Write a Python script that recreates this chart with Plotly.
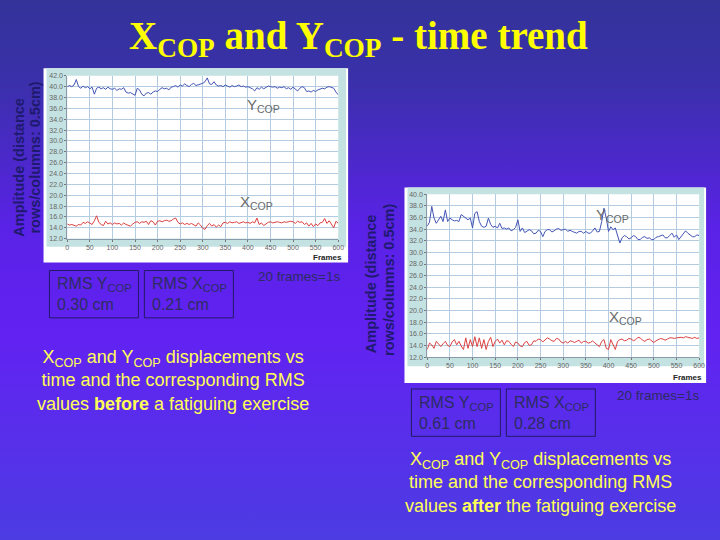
import base64
import plotly.graph_objects as go

W, H = 720, 540

frames = list(range(0, 601, 5))

# Before fatiguing exercise
y_cop_before = [40.0, 40.2, 40.0, 40.3, 41.3, 40.0, 39.7, 40.1, 39.8, 40.0, 39.6, 39.9, 38.6, 39.7, 39.9, 39.6,
                39.8, 39.5, 39.9, 39.6, 39.5, 39.7, 39.3, 39.6, 39.5, 39.8, 39.0, 38.8, 38.9, 38.6, 38.4, 39.7,
                39.4, 38.6, 38.3, 38.8, 38.9, 38.6, 39.0, 39.2, 39.1, 39.5, 39.8, 39.6, 39.7, 39.4, 39.9, 40.0,
                40.2, 39.9, 40.3, 40.1, 40.5, 40.2, 40.0, 40.4, 40.6, 40.2, 40.3, 40.5, 40.6, 40.9, 41.6, 40.5,
                40.4, 40.9, 40.3, 40.1, 40.2, 40.0, 40.3, 40.1, 39.9, 40.2, 40.0, 40.1, 40.3, 40.0, 40.1, 39.9,
                40.0, 39.8, 39.6, 39.2, 39.8, 39.5, 39.9, 39.6, 39.8, 40.1, 40.0, 39.9, 40.0, 39.7, 39.9, 39.8,
                40.0, 39.6, 39.8, 39.5, 39.9, 39.6, 39.2, 39.7, 40.0, 39.8, 39.1, 39.2, 39.0, 39.3, 39.1, 39.4,
                39.5, 39.7, 39.6, 39.9, 40.0, 39.8, 39.7, 39.0, 38.5]
x_cop_before = [14.7, 14.5, 14.6, 14.4, 14.3, 14.6, 14.5, 15.0, 14.8, 15.1, 14.9, 14.6, 15.3, 16.2, 15.0, 14.6,
                14.4, 15.2, 14.7, 14.9, 14.6, 14.9, 14.7, 14.8, 14.5, 14.9, 14.6, 14.5, 14.3, 14.7, 15.0, 15.1,
                14.8, 15.1, 15.0, 15.2, 14.6, 15.3, 15.1, 14.5, 15.2, 15.3, 15.1, 15.3, 15.4, 15.2, 15.3, 15.6,
                15.8, 15.0, 14.7, 14.9, 14.6, 14.8, 14.6, 14.8, 14.5, 14.3, 14.9, 14.5, 13.9, 13.7, 14.4, 14.8,
                14.3, 14.6, 14.1, 14.5, 14.2, 14.9, 15.0, 14.8, 15.1, 14.9, 15.0, 15.1, 14.8, 15.0, 15.1, 14.9,
                15.0, 14.8, 15.1, 14.9, 15.8, 14.6, 14.9, 14.4, 14.7, 15.0, 15.1, 14.9, 15.0, 15.1, 15.0, 14.9,
                15.1, 15.0, 15.1, 15.2, 15.1, 14.8, 15.2, 15.0, 15.1, 14.6, 14.9, 14.3, 14.8, 14.2, 14.7, 14.4,
                14.9, 15.0, 15.7, 14.8, 15.3, 14.6, 14.0, 15.2, 14.8]

# After fatiguing exercise
y_cop_after = [34.5, 35.2, 37.9, 35.9, 35.0, 35.6, 36.2, 35.3, 37.3, 35.3, 35.9, 35.6, 35.4, 35.5, 35.3, 36.5,
               36.2, 35.8, 35.6, 35.9, 34.2, 36.7, 37.0, 35.3, 34.5, 34.3, 34.5, 35.9, 34.8, 34.3, 34.5, 34.2,
               35.0, 34.1, 34.2, 34.0, 34.2, 33.7, 33.9, 34.3, 35.6, 33.6, 34.2, 33.4, 33.6, 33.9, 33.7, 33.2,
               33.3, 33.8, 33.6, 32.7, 33.6, 33.9, 33.9, 33.5, 33.7, 34.0, 34.1, 33.8, 33.9, 34.0, 33.6, 33.8,
               33.6, 33.4, 33.3, 33.6, 33.6, 33.3, 33.6, 33.3, 33.3, 33.7, 34.2, 33.5, 33.6, 35.3, 37.6, 35.9,
               33.6, 34.4, 33.9, 34.2, 33.0, 31.6, 32.5, 32.9, 32.7, 32.3, 32.5, 32.9, 32.7, 32.2, 32.2, 32.6,
               32.7, 32.4, 32.5, 32.2, 32.2, 32.6, 32.7, 32.9, 33.0, 32.5, 32.5, 32.9, 33.3, 32.6, 33.0, 32.2,
               32.7, 33.2, 33.7, 33.3, 33.0, 32.7, 32.7, 33.0, 32.9]
x_cop_after = [13.3, 14.4, 14.1, 13.5, 14.7, 14.2, 13.8, 14.3, 14.7, 14.0, 13.8, 14.6, 15.0, 14.1, 14.7, 13.9,
               13.3, 15.3, 13.5, 15.0, 13.8, 15.5, 13.8, 15.3, 13.5, 15.0, 13.3, 14.7, 15.4, 13.8, 14.7, 15.1,
               14.4, 14.9, 14.1, 14.8, 14.7, 14.2, 13.8, 14.6, 14.4, 13.9, 13.8, 14.5, 14.7, 14.0, 14.1, 14.8,
               14.7, 15.1, 15.0, 14.6, 15.0, 15.3, 15.1, 14.8, 14.7, 15.2, 15.1, 14.6, 14.4, 14.7, 14.4, 14.8,
               14.7, 14.5, 14.7, 14.9, 14.4, 14.7, 14.7, 14.4, 14.5, 14.8, 14.4, 14.1, 13.8, 14.7, 15.0, 13.5,
               13.3, 15.0, 14.1, 13.3, 14.7, 15.0, 15.1, 14.8, 14.9, 15.2, 15.1, 14.8, 15.0, 15.4, 15.3, 14.9,
               14.7, 15.0, 15.1, 14.8, 14.5, 14.8, 15.0, 15.2, 15.1, 14.9, 15.1, 15.3, 15.3, 15.2, 15.3, 15.4,
               15.4, 15.3, 15.5, 15.4, 15.3, 15.2, 15.4, 15.2, 15.3]

x_ticks = list(range(0, 601, 50))


def px(x):
    return x / W


def py(y):
    return 1 - y / H


# background gradient as svg image
svg = f'''<svg xmlns="http://www.w3.org/2000/svg" width="{W}" height="{H}" viewBox="0 0 {W} {H}" preserveAspectRatio="none">
<defs><linearGradient id="g" x1="0" y1="0" x2="0" y2="1">
<stop offset="0" stop-color="#333399"/>
<stop offset="0.15" stop-color="#3a30aa"/>
<stop offset="0.42" stop-color="#5a22e6"/>
<stop offset="0.62" stop-color="#6222f2"/>
<stop offset="1" stop-color="#4c3ce2"/>
</linearGradient></defs>
<rect x="0" y="0" width="{W}" height="{H}" fill="url(#g)"/></svg>'''
bg_uri = "data:image/svg+xml;base64," + base64.b64encode(svg.encode()).decode()

fig = go.Figure()

BLUE = "#4454b4"
RED = "#dc4040"
fig.add_trace(go.Scatter(x=frames, y=y_cop_before, mode="lines", line=dict(color=BLUE, width=1),
                         xaxis="x", yaxis="y", showlegend=False, hoverinfo="skip"))
fig.add_trace(go.Scatter(x=frames, y=x_cop_before, mode="lines", line=dict(color=RED, width=1),
                         xaxis="x", yaxis="y", showlegend=False, hoverinfo="skip"))
fig.add_trace(go.Scatter(x=frames, y=y_cop_after, mode="lines", line=dict(color=BLUE, width=1),
                         xaxis="x2", yaxis="y2", showlegend=False, hoverinfo="skip"))
fig.add_trace(go.Scatter(x=frames, y=x_cop_after, mode="lines", line=dict(color=RED, width=1),
                         xaxis="x2", yaxis="y2", showlegend=False, hoverinfo="skip"))

GRID = "#b4cce2"
TICKF = dict(family="Liberation Sans", size=7, color="#666666")
axis_common = dict(showgrid=True, gridcolor=GRID, gridwidth=1, zeroline=False, showline=True,
                   linecolor="#8a9aa8", ticks="outside", ticklen=2, tickcolor="#777777",
                   tickfont=TICKF, fixedrange=True)

fig.update_layout(
    width=W, height=H, margin=dict(l=0, r=0, t=0, b=0),
    paper_bgcolor="#5226d8", plot_bgcolor="white",
    xaxis=dict(domain=[px(66), px(340)], range=[0, 600], tickvals=x_ticks, anchor="y", **axis_common),
    yaxis=dict(domain=[py(237.7), py(72.7)], range=[12, 42], dtick=2, tickformat=".1f", anchor="x",
               **axis_common),
    xaxis2=dict(domain=[px(430), px(705)], range=[0, 600], tickvals=x_ticks, anchor="y2", **axis_common),
    yaxis2=dict(domain=[py(357.7), py(192.7)], range=[12, 40], dtick=2, tickformat=".1f", anchor="x2",
                **axis_common),
    images=[dict(source=bg_uri, xref="paper", yref="paper", x=-0.01, y=1.01, sizex=1.02, sizey=1.02,
                 sizing="stretch", layer="below", xanchor="left", yanchor="top")],
)

TEAL = "#c4e2e2"
shapes = []


def rect(x0, y0, x1, y1, fill=None, line=None, lw=1):
    shapes.append(dict(type="rect", xref="paper", yref="paper", x0=px(x0), x1=px(x1), y0=py(y1), y1=py(y0),
                       fillcolor=fill if fill else "rgba(0,0,0,0)",
                       line=dict(color=line if line else "rgba(0,0,0,0)", width=lw if line else 0),
                       layer="below"))


# chart frames
rect(42, 65, 350, 262, fill="white")
rect(45, 65, 348, 246, fill=TEAL)
rect(66, 72.7, 340, 237.7, fill="white")
rect(407, 186, 712, 384, fill="white")
rect(410, 186, 710, 367, fill=TEAL)
rect(430, 192.7, 705, 357.7, fill="white")
# RMS boxes
BOXC = "#221a66"
rect(48, 270, 138, 318, line=BOXC, lw=1)
rect(144, 270, 234, 318, line=BOXC, lw=1)
rect(414, 390, 504, 438, line=BOXC, lw=1)
rect(510, 390, 600, 438, line=BOXC, lw=1)
fig.update_layout(shapes=shapes)

ann = []


def text(x, y, s, size=12, color="black", family="Liberation Sans", xanchor="center", yanchor="middle",
         align="center", textangle=0):
    ann.append(dict(x=px(x), y=py(y), xref="paper", yref="paper", text=s, showarrow=False,
                    font=dict(size=size, color=color, family=family), xanchor=xanchor, yanchor=yanchor,
                    align=align, textangle=textangle))


# title
text(361, 35, "<b>X<sub>COP</sub> and Y<sub>COP</sub> - time trend</b>", size=39, color="#ffff00",
     family="Liberation Serif")

# y-axis titles (two lines each, placed separately)
AXT = "#1e1a6e"
text(17, 165, "<b>Amplitude (distance</b>", size=14.5, color=AXT, textangle=-90)
text(33, 156, "<b>rows/columns: 0.5cm)</b>", size=14.5, color=AXT, textangle=-90)
text(373, 283, "<b>Amplitude (distance</b>", size=14.5, color=AXT, textangle=-90)
text(392, 280, "<b>rows/columns: 0.5cm)</b>", size=14.5, color=AXT, textangle=-90)

# Frames labels
text(346, 257, "<b>Frames</b>", size=8, color="#222222", xanchor="right")
text(710, 378, "<b>Frames</b>", size=8, color="#222222", xanchor="right")

# in-chart labels
LBL = "#6a6a6a"
text(246, 103, "Y<sub>COP</sub>", size=15, color=LBL, xanchor="left")
text(239, 201, "X<sub>COP</sub>", size=15, color=LBL, xanchor="left")
text(599, 214, "Y<sub>COP</sub>", size=15, color=LBL, xanchor="left")
text(612, 318, "X<sub>COP</sub>", size=15, color=LBL, xanchor="left")

# RMS texts
RMC = "#2c2c62"
text(54, 294, "RMS Y<sub>COP</sub><br>0.30 cm", size=16, color=RMC, xanchor="left", align="left")
text(150, 294, "RMS X<sub>COP</sub><br>0.21 cm", size=16, color=RMC, xanchor="left", align="left")
text(300, 276, "20 frames=1s", size=13.5, color=RMC)
text(420, 414, "RMS Y<sub>COP</sub><br>0.61 cm", size=16, color=RMC, xanchor="left", align="left")
text(516, 414, "RMS X<sub>COP</sub><br>0.28 cm", size=16, color=RMC, xanchor="left", align="left")
text(663, 397, "20 frames=1s", size=13.5, color=RMC)

# captions
CAP = "#ffff55"
text(173, 381, "X<sub>COP</sub> and Y<sub>COP</sub> displacements vs<br>time and the corresponding RMS<br>"
               "values <b>before</b> a fatiguing exercise", size=18, color=CAP)
text(545, 485, "X<sub>COP</sub> and Y<sub>COP</sub> displacements vs<br>time and the corresponding RMS<br>"
               "values <b>after</b> the fatiguing exercise", size=18, color=CAP)

fig.update_layout(annotations=ann)
fig.write_html("out.html", config={"displayModeBar": False, "staticPlot": True},
               post_script="document.body.style.margin='0';document.body.style.overflow='hidden';")
